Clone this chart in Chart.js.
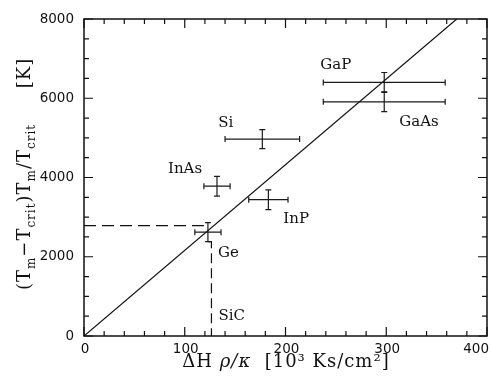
<!DOCTYPE html>
<html>
<head>
<meta charset="utf-8">
<script src="https://cdn.jsdelivr.net/npm/chart.js@4"></script>
<style>
  body { margin: 0; background: #fff; }
  #wrap { width: 491px; height: 379px; position: relative; }
</style>
</head>
<body>
<div id="wrap"><canvas id="myChart"></canvas></div>
<script>
// data
const materials = ["Si", "InAs", "Ge", "InP", "GaP", "GaAs"];
const heatParam = [177, 132, 123, 183, 298, 298];       // ΔH ρ/κ  [10^3 Ks/cm^2]
const heatErr = [37, 13, 13, 19.5, 60.5, 60.5];
const tempDiff = [4970, 3780, 2620, 3440, 6400, 5910];   // (Tm-Tcrit)Tm/Tcrit [K]
const tempErr = [240, 250, 240, 250, 250, 250];

const fitX = [0, 370];
const fitY = [0, 8000];

const sicHeat = 126.5;
const sicTemp = 2786;

const xTicks = [0, 100, 200, 300, 400];
const yTicks = [0, 2000, 4000, 6000, 8000];

// label placement (pixels from the point)
const labelOffsets = {
  Si: [-44, -16], InAs: [-49, -17], Ge: [10, 21],
  InP: [15, 19], GaP: [-64, -17], GaAs: [15, 20]
};

const serif = "'DejaVu Serif', serif";
const sans = "'DejaVu Sans', sans-serif";

const frame = {
  id: "frame",
  afterDatasetsDraw(chart) {
    const ctx = chart.ctx;
    const xs = chart.scales.x, ys = chart.scales.y;
    const { left, right, top, bottom } = chart.chartArea;
    ctx.save();
    ctx.strokeStyle = "#111";
    ctx.lineWidth = 1.5;
    ctx.strokeRect(left, top, right - left, bottom - top);

    // inward ticks on all sides
    ctx.lineWidth = 1.2;
    ctx.beginPath();
    for (let v = 0; v <= 400; v += 20) {
      const px = xs.getPixelForValue(v);
      const len = v % 100 === 0 ? 9 : 5;
      ctx.moveTo(px, bottom); ctx.lineTo(px, bottom - len);
      ctx.moveTo(px, top); ctx.lineTo(px, top + len);
    }
    for (let v = 0; v <= 8000; v += 500) {
      const py = ys.getPixelForValue(v);
      const len = v % 2000 === 0 ? 9 : 5;
      ctx.moveTo(left, py); ctx.lineTo(left + len, py);
      ctx.moveTo(right, py); ctx.lineTo(right - len, py);
    }
    ctx.stroke();

    // x tick labels (last one kept inside the canvas)
    ctx.fillStyle = "#111";
    ctx.font = "13.5px " + sans;
    ctx.textAlign = "center";
    ctx.textBaseline = "middle";
    xTicks.forEach(v => {
      const s = String(v);
      const tw = ctx.measureText(s).width;
      const px = Math.min(xs.getPixelForValue(v) + 1, chart.width - 2 - tw / 2);
      ctx.fillText(s, px, bottom + 13);
    });

    // error bars
    ctx.strokeStyle = "#1a1a1a";
    ctx.lineWidth = 1.2;
    materials.forEach((m, i) => {
      const cx = xs.getPixelForValue(heatParam[i]);
      const cy = ys.getPixelForValue(tempDiff[i]);
      const x0 = xs.getPixelForValue(heatParam[i] - heatErr[i]);
      const x1 = xs.getPixelForValue(heatParam[i] + heatErr[i]);
      const y0 = ys.getPixelForValue(tempDiff[i] - tempErr[i]);
      const y1 = ys.getPixelForValue(tempDiff[i] + tempErr[i]);
      ctx.beginPath();
      ctx.moveTo(x0, cy); ctx.lineTo(x1, cy);
      ctx.moveTo(x0, cy - 3); ctx.lineTo(x0, cy + 3);
      ctx.moveTo(x1, cy - 3); ctx.lineTo(x1, cy + 3);
      ctx.moveTo(cx, y0); ctx.lineTo(cx, y1);
      ctx.moveTo(cx - 3, y0); ctx.lineTo(cx + 3, y0);
      ctx.moveTo(cx - 3, y1); ctx.lineTo(cx + 3, y1);
      ctx.stroke();
    });

    // point labels
    ctx.font = "15px " + serif;
    ctx.textAlign = "left";
    materials.forEach((m, i) => {
      const off = labelOffsets[m];
      ctx.fillText(m, xs.getPixelForValue(heatParam[i]) + off[0], ys.getPixelForValue(tempDiff[i]) + off[1]);
    });
    ctx.fillText("SiC", xs.getPixelForValue(sicHeat) + 7, ys.getPixelForValue(500));

    // x axis title
    const parts = [
      { t: "ΔH ", f: "18px " + serif },
      { t: "ρ/κ", f: "italic 18px " + serif },
      { t: "  [10³ Ks/cm²]", f: "18px " + serif }
    ];
    ctx.letterSpacing = "1px";
    let w = 0;
    parts.forEach(p => { ctx.font = p.f; w += ctx.measureText(p.t).width; });
    let x = 286 - w / 2;
    parts.forEach(p => { ctx.font = p.f; ctx.fillText(p.t, x, 362); x += ctx.measureText(p.t).width; });

    // y axis title
    const yParts = [
      { t: "(T", sub: false }, { t: "m", sub: true }, { t: "−T", sub: false }, { t: "crit", sub: true },
      { t: ")T", sub: false }, { t: "m", sub: true }, { t: "/T", sub: false }, { t: "crit", sub: true }
    ];
    const big = "18px " + serif, small = "12px " + serif;
    let total = 0;
    yParts.forEach(p => { ctx.font = p.sub ? small : big; total += ctx.measureText(p.t).width; });
    ctx.translate(30, 207 + total / 2);
    ctx.rotate(-Math.PI / 2);
    ctx.textBaseline = "alphabetic";
    let pos = 0;
    yParts.forEach(p => {
      ctx.font = p.sub ? small : big;
      ctx.fillText(p.t, pos, p.sub ? 5 : 0);
      pos += ctx.measureText(p.t).width;
    });
    ctx.font = big;
    const kw = ctx.measureText("[K]").width;
    ctx.fillText("[K]", 207 + total / 2 - 73 - kw / 2, 0);
    ctx.restore();
  }
};

const ctx = document.getElementById("myChart").getContext("2d");
new Chart(ctx, {
  type: "scatter",
  data: {
    datasets: [
      {
        type: "line",
        data: fitX.map((v, i) => ({ x: v, y: fitY[i] })),
        borderColor: "#111",
        borderWidth: 1.2,
        pointRadius: 0
      },
      {
        type: "line",
        data: [{ x: 0, y: sicTemp }, { x: heatParam[2], y: sicTemp }],
        borderColor: "#111",
        borderWidth: 1.2,
        borderDash: [12, 6],
        pointRadius: 0
      },
      {
        type: "line",
        data: [{ x: heatParam[2], y: tempDiff[2] - tempErr[2] }, { x: sicHeat, y: tempDiff[2] - tempErr[2] }, { x: sicHeat, y: 0 }],
        borderColor: "#111",
        borderWidth: 1.2,
        borderDash: [10, 5],
        pointRadius: 0
      },
      {
        data: heatParam.map((v, i) => ({ x: v, y: tempDiff[i] })),
        pointRadius: 0
      }
    ]
  },
  options: {
    responsive: true,
    maintainAspectRatio: false,
    animation: false,
    layout: { padding: { top: 19, right: 4, left: 0, bottom: 0 } },
    plugins: { legend: { display: false }, tooltip: { enabled: false } },
    scales: {
      x: {
        type: "linear", min: 0, max: 400,
        afterBuildTicks: s => { s.ticks = xTicks.map(v => ({ value: v })); },
        afterFit: s => { s.height = 43; s.paddingLeft = 0; s.paddingRight = 0; },
        grid: { display: false, drawTicks: false },
        border: { display: false },
        ticks: { display: false }
      },
      y: {
        type: "linear", min: 0, max: 8000,
        afterBuildTicks: s => { s.ticks = yTicks.map(v => ({ value: v })); },
        afterFit: s => { s.width = 84; s.paddingTop = 0; s.paddingBottom = 0; },
        grid: { display: false, drawTicks: false },
        border: { display: false },
        ticks: { color: "#111", font: { family: sans, size: 13.5 }, padding: 10, callback: v => String(v) }
      }
    }
  },
  plugins: [frame]
});
</script>
</body>
</html>
